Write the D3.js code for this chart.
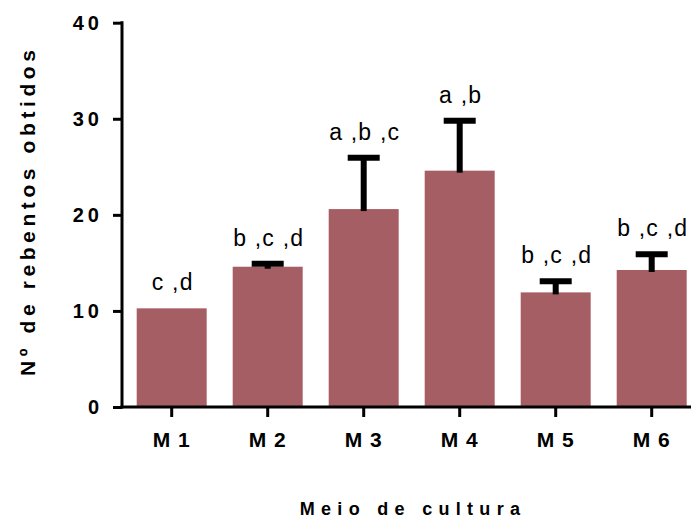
<!DOCTYPE html>
<html>
<head>
<meta charset="utf-8">
<script src="https://cdn.jsdelivr.net/npm/d3@7"></script>
<style>
  html, body { margin: 0; padding: 0; background: #fff; }
  svg { display: block; font-family: "Liberation Sans", Arial, sans-serif; }
</style>
</head>
<body>
<svg id="chart" width="691" height="518"></svg>
<script>
// Culture media and mean shoot counts with their upper error bars
const categories = ["M 1", "M 2", "M 3", "M 4", "M 5", "M 6"];
const means = [10.27, 14.6, 20.6, 24.6, 11.93, 14.26];
const errors = [0, 0.3, 5.35, 5.2, 1.17, 1.64];
const letters = ["c ,d", "b ,c ,d", "a ,b ,c", "a ,b", "b ,c ,d", "b ,c ,d"];
const yTicks = [0, 10, 20, 30, 40];

const svg = d3.select("#chart");
const barColor = "#a65e65";

const x = d3.scaleBand()
  .domain(categories)
  .range([123.7, 699.7])
  .paddingInner(26 / 96)
  .paddingOuter(13 / 96);

const y = d3.scaleLinear().domain([0, 40]).range([407, 22.7]);

// Bars
svg.append("g").selectAll("rect")
  .data(categories)
  .join("rect")
  .attr("x", d => x(d))
  .attr("width", x.bandwidth())
  .attr("y", (d, i) => y(means[i]))
  .attr("height", (d, i) => y(0) - y(means[i]))
  .attr("fill", barColor);

// Upper error bars
const eb = svg.append("g").attr("stroke", "#000").attr("stroke-width", 6);
categories.forEach((c, i) => {
  if (errors[i] <= 0) return;
  const cx = x(c) + x.bandwidth() / 2;
  eb.append("line")
    .attr("x1", cx).attr("x2", cx)
    .attr("y1", y(means[i]) + 2).attr("y2", y(means[i] + errors[i]));
  eb.append("line")
    .attr("x1", cx - 16).attr("x2", cx + 16)
    .attr("y1", y(means[i] + errors[i])).attr("y2", y(means[i] + errors[i]));
});

// Significance letters
svg.append("g").selectAll("text")
  .data(categories)
  .join("text")
  .attr("x", d => x(d) + x.bandwidth() / 2 + 1)
  .attr("y", (d, i) => y(means[i] + errors[i]) - 18)
  .attr("text-anchor", "middle")
  .attr("font-size", 23)
  .attr("letter-spacing", 1.2)
  .attr("fill", "#000")
  .text((d, i) => letters[i]);

// Y axis
const yAxis = svg.append("g")
  .attr("transform", "translate(122,0)")
  .call(d3.axisLeft(y).tickValues(yTicks).tickSize(9).tickPadding(14).tickFormat(d3.format("d")));
yAxis.select(".domain").attr("stroke-width", 3).attr("d", `M0,${y(40) - 1.5}V${y(0) + 1.5}`);
yAxis.selectAll(".tick line").attr("stroke-width", 3);
yAxis.selectAll(".tick text")
  .attr("font-size", 20)
  .attr("font-weight", "bold")
  .attr("letter-spacing", 4)
  .attr("dx", 4)
  .attr("fill", "#000");

// X axis
const xAxis = svg.append("g")
  .attr("transform", `translate(0,${y(0)})`)
  .call(d3.axisBottom(x).tickSize(10).tickPadding(15).tickSizeOuter(0));
xAxis.select(".domain").attr("stroke-width", 3).attr("d", "M120.5,0H698");
xAxis.selectAll(".tick line").attr("stroke-width", 3);
xAxis.selectAll(".tick text")
  .attr("font-size", 21)
  .attr("font-weight", "bold")
  .attr("letter-spacing", 1)
  .attr("fill", "#000");

// Axis titles
svg.append("text")
  .attr("transform", "translate(35,213) rotate(-90)")
  .attr("text-anchor", "middle")
  .attr("font-size", 21)
  .attr("font-weight", "bold")
  .attr("letter-spacing", 4.6)
  .attr("dx", 2.3)
  .text("Nº de rebentos obtidos");

svg.append("text")
  .attr("x", 413)
  .attr("y", 515)
  .attr("text-anchor", "middle")
  .attr("font-size", 18)
  .attr("font-weight", "bold")
  .attr("letter-spacing", 6.3)
  .text("Meio de cultura");
</script>
</body>
</html>
